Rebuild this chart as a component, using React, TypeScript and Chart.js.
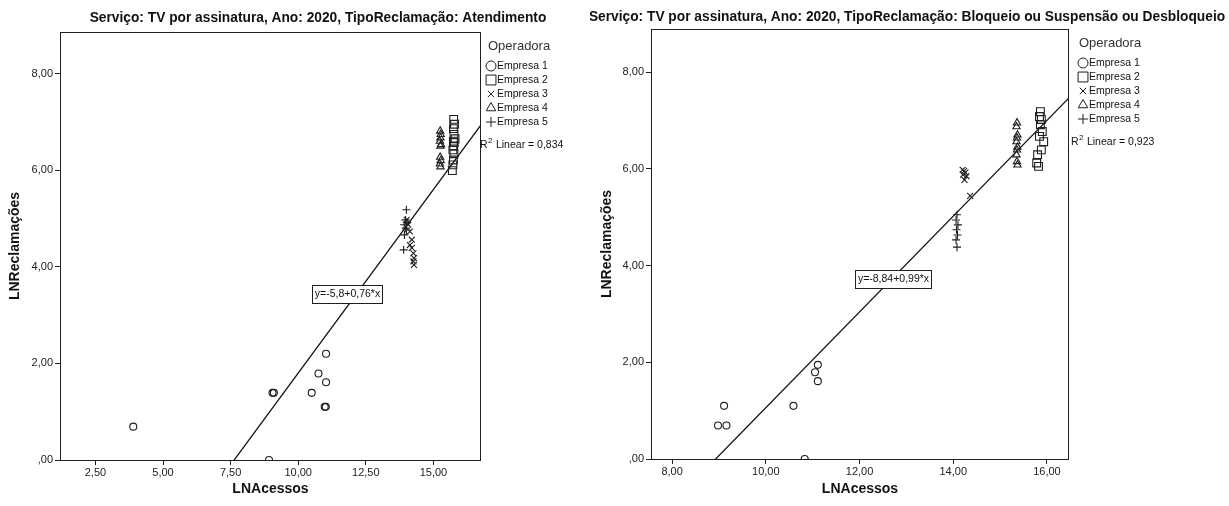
import { useEffect, useRef } from 'react';
import { Chart, registerables } from 'chart.js';
import { drawPoint } from 'chart.js/helpers';

Chart.register(...registerables);

const FONT = "'Liberation Sans', Arial, Helvetica, sans-serif";
const INK = '#1f1f1f';
const TEXT = '#111111';

// Operadoras and how each one is marked
const SERIES_NAMES = ['Empresa 1', 'Empresa 2', 'Empresa 3', 'Empresa 4', 'Empresa 5'];
const SERIES_STYLES = ['circle', 'rect', 'crossRot', 'triangle', 'cross'];
const POINT_RADII = [3.5, 5.5, 4.2, 4.2, 4];
const LEGEND_RADII = [5, 7, 4.5, 5.5, 5];

// ---- Atendimento (LNAcessos x LNReclamações)
const atE1X = [3.9, 8.92, 9.05, 9.1, 10.5, 10.75, 10.98, 11.02, 11.03, 11.03];
const atE1Y = [0.69, 0, 1.39, 1.39, 1.39, 1.79, 1.1, 1.1, 1.61, 2.2];
const atE2X = [15.75, 15.78, 15.74, 15.76, 15.8, 15.74, 15.77, 15.75, 15.72, 15.76, 15.74, 15.72, 15.7];
const atE2Y = [7.05, 6.95, 6.86, 6.74, 6.65, 6.6, 6.57, 6.5, 6.42, 6.34, 6.21, 6.11, 5.99];
const atE3X = [14.01, 14.07, 14.13, 14.2, 14.13, 14.2, 14.26, 14.28, 14.26, 14.28];
const atE3Y = [4.97, 4.87, 4.73, 4.56, 4.45, 4.39, 4.28, 4.18, 4.11, 4.04];
const atE4X = [15.25, 15.27, 15.26, 15.24, 15.28, 15.26, 15.25, 15.27, 15.24, 15.26];
const atE4Y = [6.81, 6.74, 6.67, 6.6, 6.53, 6.5, 6.27, 6.2, 6.13, 6.07];
const atE5X = [14.0, 13.97, 14.02, 13.92, 13.98, 14.0, 13.93, 13.9];
const atE5Y = [5.18, 4.97, 4.92, 4.87, 4.8, 4.76, 4.66, 4.35];
const atIntercept = -5.8;
const atSlope = 0.76;
const atR2 = 0.834;

// ---- Bloqueio ou Suspensão ou Desbloqueio
const blE1X = [8.98, 9.16, 9.11, 10.59, 11.11, 11.05, 11.11, 10.83];
const blE1Y = [0.693, 0.693, 1.099, 1.099, 1.946, 1.792, 1.609, 0];
const blE2X = [15.86, 15.84, 15.88, 15.86, 15.9, 15.84, 15.93, 15.88, 15.8, 15.78, 15.82];
const blE2Y = [7.18, 7.08, 7.02, 6.91, 6.77, 6.67, 6.56, 6.39, 6.29, 6.12, 6.05];
const blE3X = [14.2, 14.23, 14.26, 14.21, 14.28, 14.24, 14.36];
const blE3Y = [5.98, 5.95, 5.92, 5.88, 5.85, 5.77, 5.44];
const blE4X = [15.36, 15.35, 15.37, 15.36, 15.35, 15.37, 15.36, 15.35, 15.36, 15.37];
const blE4Y = [6.95, 6.87, 6.7, 6.64, 6.56, 6.45, 6.39, 6.29, 6.15, 6.08];
const blE5X = [14.08, 14.06, 14.1, 14.07, 14.09, 14.06, 14.08];
const blE5Y = [5.05, 4.94, 4.84, 4.74, 4.63, 4.53, 4.38];
const blIntercept = -8.84;
const blSlope = 0.99;
const blR2 = 0.923;

const Y_TITLE = 'LNReclamações';
const X_TITLE = 'LNAcessos';
const LEGEND_TITLE = 'Operadora';

type Panel = {
  title: string;
  xs: number[][];
  ys: number[][];
  intercept: number;
  slope: number;
  r2: number;
  xMin: number;
  xMax: number;
  xStep: number;
  yMax: number;
  eqAt: [number, number];
  canvasLeft: number;
  canvasWidth: number;
  areaTop: number;
  padRight: number;
  yAxisWidth: number;
  xAxisHeight: number;
  yTitlePad: number;
  titleX: number;
  titleY: number;
  legOp: number;
  legMark: number;
  legText: number;
  legR2: number;
};

const panelA: Panel = {
  title: 'Serviço: TV por assinatura, Ano: 2020, TipoReclamação: Atendimento',
  xs: [atE1X, atE2X, atE3X, atE4X, atE5X],
  ys: [atE1Y, atE2Y, atE3Y, atE4Y, atE5Y],
  intercept: atIntercept,
  slope: atSlope,
  r2: atR2,
  xMin: 1.19,
  xMax: 16.76,
  xStep: 2.5,
  yMax: 8.86,
  eqAt: [11.8, 3.44],
  canvasLeft: 0,
  canvasWidth: 600,
  areaTop: 32,
  padRight: 119,
  yAxisWidth: 60,
  xAxisHeight: 46,
  yTitlePad: 6.6,
  titleX: 318,
  titleY: 18,
  legOp: 7,
  legMark: 10,
  legText: 16,
  legR2: -1,
};

const panelB: Panel = {
  title: 'Serviço: TV por assinatura, Ano: 2020, TipoReclamação: Bloqueio ou Suspensão ou Desbloqueio',
  xs: [blE1X, blE2X, blE3X, blE4X, blE5X],
  ys: [blE1Y, blE2Y, blE3Y, blE4Y, blE5Y],
  intercept: blIntercept,
  slope: blSlope,
  r2: blR2,
  xMin: 7.55,
  xMax: 16.47,
  xStep: 2,
  yMax: 8.89,
  eqAt: [12.72, 3.72],
  canvasLeft: 590,
  canvasWidth: 639,
  areaTop: 29,
  padRight: 160,
  yAxisWidth: 61,
  xAxisHeight: 47,
  yTitlePad: 8.6,
  titleX: 317,
  titleY: 17,
  legOp: 10,
  legMark: 14,
  legText: 20,
  legR2: 2,
};

const fmtTick = (v: number) => Number(v).toFixed(2).replace('.', ',').replace(/^0(?=,)/, '');
const fmtNum = (v: number) => String(v).replace('.', ',');

function makeDecor(p: Panel) {
  return {
    id: 'panelDecor',
    afterDraw(chart: any) {
      const { ctx, chartArea: a, scales } = chart;
      ctx.save();

      // plot frame
      ctx.strokeStyle = INK;
      ctx.lineWidth = 1;
      const l = Math.round(a.left) + 0.5;
      const t = Math.round(a.top) + 0.5;
      const r = Math.round(a.right) - 0.5;
      const b = Math.round(a.bottom) + 0.5;
      ctx.strokeRect(l, t, r - l, b - t);

      // chart title
      ctx.fillStyle = TEXT;
      ctx.font = `bold 13.75px ${FONT}`;
      ctx.textAlign = 'center';
      ctx.textBaseline = 'middle';
      ctx.fillText(p.title, p.titleX, p.titleY);

      // fitted-line equation label
      const eq = `y=${fmtNum(p.intercept)}+${fmtNum(p.slope)}*x`;
      ctx.font = `10.5px ${FONT}`;
      const ex = scales.x.getPixelForValue(p.eqAt[0]);
      const ey = scales.y.getPixelForValue(p.eqAt[1]);
      const w = Math.round(ctx.measureText(eq).width + 5);
      const h = 18;
      const bx = Math.round(ex - w / 2) + 0.5;
      const by = Math.round(ey - h / 2) + 0.5;
      ctx.fillStyle = '#ffffff';
      ctx.fillRect(bx, by, w, h);
      ctx.strokeStyle = INK;
      ctx.strokeRect(bx, by, w, h);
      ctx.fillStyle = TEXT;
      ctx.fillText(eq, bx + w / 2, ey + 0.5);

      // legend
      const x0 = a.right;
      ctx.textAlign = 'left';
      ctx.fillStyle = '#333333';
      ctx.font = `13px ${FONT}`;
      ctx.fillText(LEGEND_TITLE, x0 + p.legOp, a.top + 14);
      ctx.font = `10.5px ${FONT}`;
      SERIES_NAMES.forEach((name, i) => {
        const y = a.top + 34 + i * 14;
        ctx.strokeStyle = INK;
        ctx.fillStyle = 'rgba(0,0,0,0)';
        ctx.lineWidth = 1;
        drawPoint(ctx, { pointStyle: SERIES_STYLES[i] as any, radius: LEGEND_RADII[i], borderWidth: 1, rotation: 0 } as any, x0 + p.legMark, y);
        ctx.fillStyle = TEXT;
        ctx.fillText(name, x0 + p.legText, y);
      });
      const ry = a.top + 113;
      let rx = x0 + p.legR2;
      ctx.fillStyle = TEXT;
      ctx.font = `10.5px ${FONT}`;
      ctx.fillText('R', rx, ry);
      rx += ctx.measureText('R').width;
      ctx.font = `8px ${FONT}`;
      ctx.fillText('2', rx + 0.5, ry - 4);
      rx += ctx.measureText('2').width + 1;
      ctx.font = `10.5px ${FONT}`;
      ctx.fillText(` Linear = ${p.r2.toFixed(3).replace('.', ',')}`, rx, ry);

      ctx.restore();
    },
  };
}

function buildConfig(p: Panel): any {
  const datasets: any[] = p.xs.map((xs, i) => ({
    type: 'scatter',
    label: SERIES_NAMES[i],
    data: xs.map((x, j) => ({ x, y: p.ys[i][j] })),
    pointStyle: SERIES_STYLES[i],
    pointRadius: POINT_RADII[i],
    pointBorderWidth: 1.1,
    pointBorderColor: INK,
    pointBackgroundColor: 'rgba(0,0,0,0)',
    borderColor: INK,
    backgroundColor: 'rgba(0,0,0,0)',
    showLine: false,
    clip: 0,
  }));
  datasets.push({
    type: 'line',
    label: 'Linear',
    data: [p.xMin, p.xMax].map((x) => ({ x, y: p.intercept + p.slope * x })),
    borderColor: '#111111',
    borderWidth: 1.3,
    pointRadius: 0,
    fill: false,
    tension: 0,
    clip: 0,
  });

  const tickFont = { family: FONT, size: 11 };
  const titleFont = { family: FONT, size: 14, weight: 'bold' as const };

  return {
    type: 'scatter',
    data: { datasets },
    options: {
      responsive: false,
      animation: false,
      events: [],
      layout: { padding: { left: 0, top: p.areaTop, right: p.padRight, bottom: 0 } },
      plugins: {
        legend: { display: false },
        title: { display: false },
        tooltip: { enabled: false },
      },
      scales: {
        x: {
          type: 'linear',
          min: p.xMin,
          max: p.xMax,
          afterFit: (s: any) => {
            s.height = p.xAxisHeight;
          },
          ticks: {
            stepSize: p.xStep,
            includeBounds: false,
            maxRotation: 0,
            autoSkip: false,
            padding: 1,
            color: '#222222',
            font: tickFont,
            callback: (v: any) => fmtTick(v),
          },
          grid: { display: true, drawOnChartArea: false, drawTicks: true, tickLength: 5, color: INK },
          border: { display: false },
          title: {
            display: true,
            text: X_TITLE,
            color: TEXT,
            font: titleFont,
            padding: { top: 0, bottom: 8.6 },
          },
        },
        y: {
          type: 'linear',
          min: 0,
          max: p.yMax,
          afterFit: (s: any) => {
            s.width = p.yAxisWidth;
          },
          ticks: {
            stepSize: 2,
            includeBounds: false,
            autoSkip: false,
            padding: 2,
            color: '#222222',
            font: tickFont,
            callback: (v: any) => fmtTick(v),
          },
          grid: { display: true, drawOnChartArea: false, drawTicks: true, tickLength: 5, color: INK },
          border: { display: false },
          title: {
            display: true,
            text: Y_TITLE,
            color: TEXT,
            font: titleFont,
            padding: { top: p.yTitlePad, bottom: 0 },
          },
        },
      },
    },
    plugins: [makeDecor(p)],
  };
}

function ScatterPanel({ panel }: { panel: Panel }) {
  const ref = useRef<HTMLCanvasElement>(null);
  useEffect(() => {
    if (!ref.current) return;
    const chart = new Chart(ref.current, buildConfig(panel));
    return () => chart.destroy();
  }, [panel]);
  return (
    <canvas
      ref={ref}
      width={panel.canvasWidth}
      height={506}
      style={{ position: 'absolute', left: panel.canvasLeft, top: 0, width: panel.canvasWidth, height: 506 }}
    />
  );
}

export default function App() {
  return (
    <div style={{ position: 'absolute', left: 0, top: 0, width: 1229, height: 506, background: '#ffffff', overflow: 'hidden' }}>
      <ScatterPanel panel={panelA} />
      <ScatterPanel panel={panelB} />
    </div>
  );
}
